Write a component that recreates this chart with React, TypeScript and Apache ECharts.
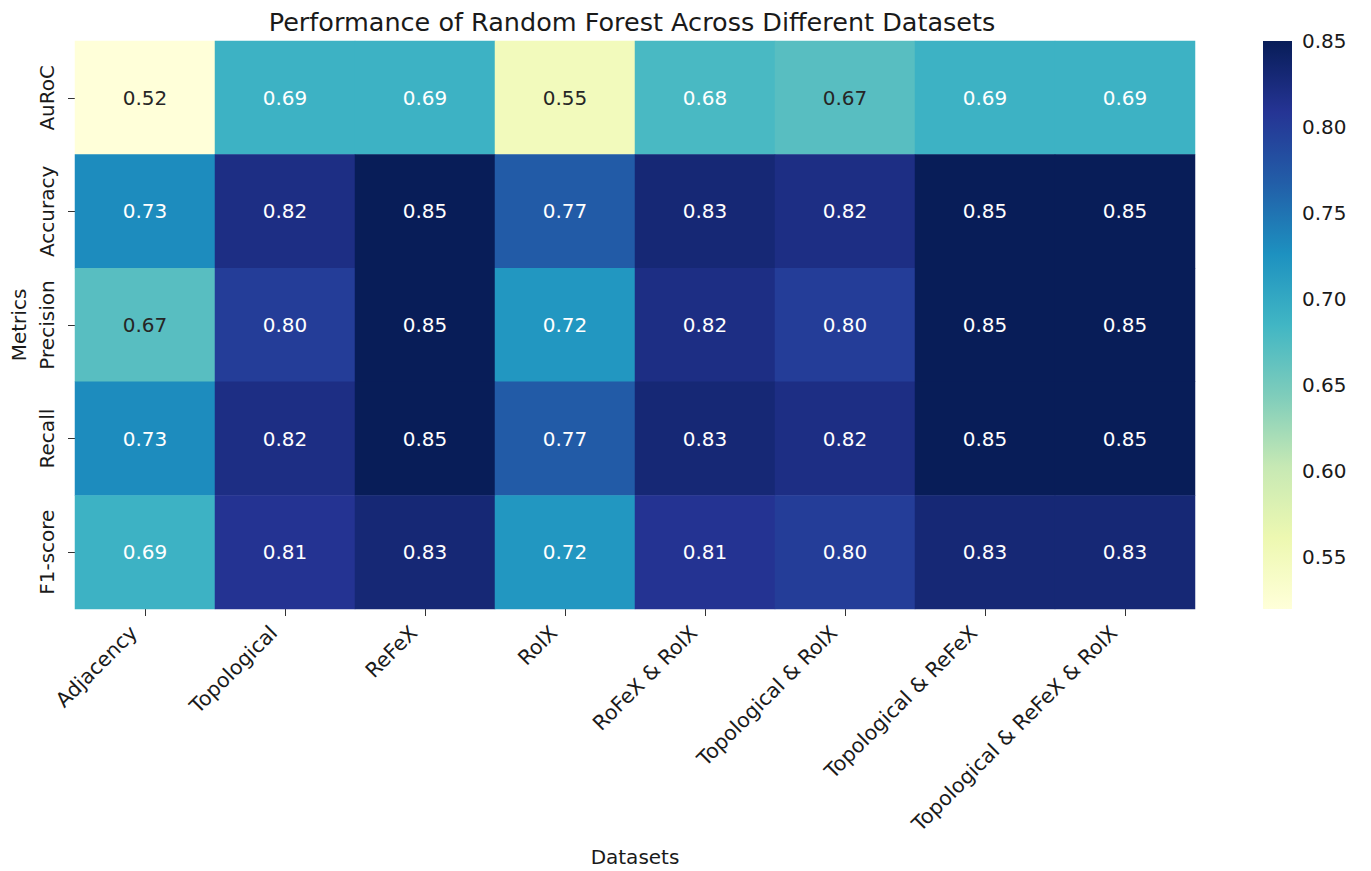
import React, { useEffect, useRef } from "react";
import * as echarts from "echarts";

const datasets = [
  "Adjacency",
  "Topological",
  "ReFeX",
  "RolX",
  "RoFeX & RolX",
  "Topological & RolX",
  "Topological & ReFeX",
  "Topological & ReFeX & RolX",
];
const metrics = ["AuRoC", "Accuracy", "Precision", "Recall", "F1-score"];

const aurocValues = [0.52, 0.69, 0.69, 0.55, 0.68, 0.67, 0.69, 0.69];
const accuracyValues = [0.73, 0.82, 0.85, 0.77, 0.83, 0.82, 0.85, 0.85];
const precisionValues = [0.67, 0.8, 0.85, 0.72, 0.82, 0.8, 0.85, 0.85];
const recallValues = [0.73, 0.82, 0.85, 0.77, 0.83, 0.82, 0.85, 0.85];
const f1Values = [0.69, 0.81, 0.83, 0.72, 0.81, 0.8, 0.83, 0.83];

const colorbarTicks = [0.55, 0.6, 0.65, 0.7, 0.75, 0.8, 0.85];
const vMin = 0.52;
const vMax = 0.85;

const YlGnBu = [
  "#ffffd9",
  "#edf8b1",
  "#c7e9b4",
  "#7fcdbb",
  "#41b6c4",
  "#1d91c0",
  "#225ea8",
  "#253494",
  "#081d58",
];

const GRID_LEFT = 75;
const GRID_TOP = 41;
const GRID_W = 1120;
const GRID_H = 568;
const CB_LEFT = 1263;
const CB_W = 29;

export default function App() {
  const ref = useRef<HTMLDivElement>(null);
  useEffect(() => {
    document.body.style.margin = "0";
    document.body.style.overflow = "hidden";
    if (!ref.current) return;
    const chart = echarts.init(ref.current, undefined, { renderer: "svg" });
    const rows = [aurocValues, accuracyValues, precisionValues, recallValues, f1Values];
    const data: any[] = [];
    rows.forEach((row, r) => {
      row.forEach((v, c) => {
        data.push({
          value: [c, r, v],
          label: { color: v < 0.675 ? "#262626" : "#ffffff" },
        });
      });
    });
    const font = "DejaVu Sans";
    const txt = "#1a1a1a";
    const gradStops = YlGnBu.map((c, i) => ({
      offset: 1 - i / (YlGnBu.length - 1),
      color: c,
    })).reverse();
    chart.setOption({
      animation: false,
      textStyle: { fontFamily: font },
      title: {
        text: "Performance of Random Forest Across Different Datasets",
        left: 632,
        textAlign: "center",
        top: 9,
        padding: 0,
        textStyle: { fontFamily: font, fontSize: 25.5, fontWeight: "normal", color: txt },
      },
      grid: [
        {
          left: GRID_LEFT,
          width: GRID_W,
          top: GRID_TOP,
          height: GRID_H,
          containLabel: false,
          outerBoundsMode: "none",
        },
        {
          left: CB_LEFT,
          width: CB_W,
          top: GRID_TOP,
          height: GRID_H,
          containLabel: false,
          outerBoundsMode: "none",
        },
      ],
      xAxis: [
        {
          type: "category",
          data: datasets,
          gridIndex: 0,
          position: "bottom",
          axisLine: { show: false },
          axisTick: { show: true, length: 7, lineStyle: { color: "#333" }, alignWithLabel: true },
          axisLabel: {
            rotate: 45,
            fontSize: 20.5,
            color: txt,
            margin: 9,
            interval: 0,
            padding: [0, 16, 0, 0],
          },
          splitArea: { show: false },
          name: "Datasets",
          nameLocation: "middle",
          nameGap: 238,
          nameTextStyle: { fontSize: 20, color: txt },
        },
        {
          type: "value",
          gridIndex: 1,
          show: false,
          min: 0,
          max: 1,
        },
      ],
      yAxis: [
        {
          type: "category",
          data: metrics,
          gridIndex: 0,
          inverse: true,
          axisLine: { show: false },
          axisTick: { show: true, length: 7, lineStyle: { color: "#333" }, alignWithLabel: true },
          axisLabel: { rotate: 90, fontSize: 20, color: txt, margin: 18, interval: 0 },
          name: "Metrics",
          nameLocation: "middle",
          nameGap: 42,
          nameRotate: 90,
          nameTextStyle: { fontSize: 20, color: txt },
        },
        {
          type: "value",
          gridIndex: 1,
          position: "right",
          min: vMin,
          max: vMax,
          axisLine: { show: false },
          splitLine: { show: false },
          axisTick: {
            show: true,
            length: 7,
            lineStyle: { color: "#333" },
            customValues: colorbarTicks,
          },
          axisLabel: {
            fontSize: 20,
            color: txt,
            margin: 10,
            customValues: colorbarTicks,
            formatter: (v: number) => v.toFixed(2),
          },
        },
      ],
      visualMap: {
        type: "continuous",
        show: false,
        min: vMin,
        max: vMax,
        seriesIndex: 0,
        inRange: { color: YlGnBu },
      },
      graphic: [
        {
          type: "rect",
          shape: { x: CB_LEFT, y: GRID_TOP, width: CB_W, height: GRID_H },
          style: {
            fill: new echarts.graphic.LinearGradient(0, 0, 0, 1, gradStops),
          },
          silent: true,
          z: 1,
        },
      ],
      series: [
        {
          type: "heatmap",
          xAxisIndex: 0,
          yAxisIndex: 0,
          data,
          label: {
            show: true,
            fontSize: 20,
            fontFamily: font,
            formatter: (p: any) => p.value[2].toFixed(2),
          },
          itemStyle: { borderWidth: 0 },
          emphasis: { disabled: true },
        },
        {
          type: "scatter",
          xAxisIndex: 1,
          yAxisIndex: 1,
          data: [],
        },
      ],
    });
    return () => chart.dispose();
  }, []);
  return <div ref={ref} style={{ width: 1371, height: 871 }} />;
}
